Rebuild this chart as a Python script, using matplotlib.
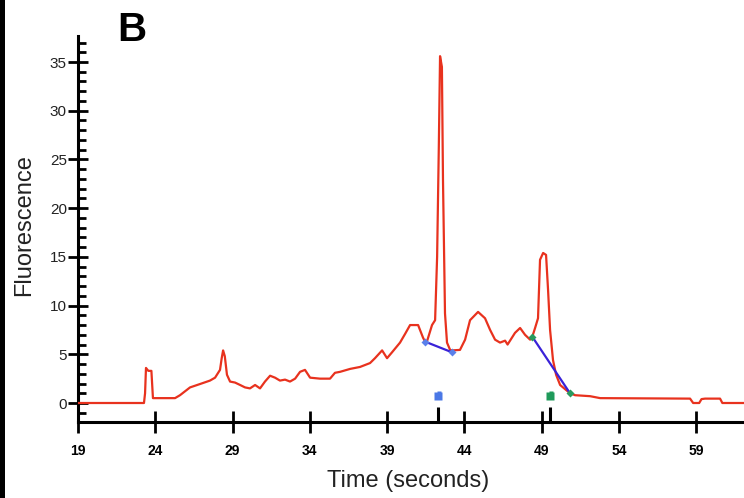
import matplotlib
matplotlib.use("Agg")
import matplotlib.pyplot as plt
from matplotlib.patches import Rectangle
from matplotlib.ticker import MultipleLocator

plt.rcParams['font.family'] = ['Liberation Sans', 'DejaVu Sans']

# Electropherogram trace
time_s = [19.0, 23.27, 23.34, 23.40, 23.55, 23.75, 23.85, 25.28, 25.60, 26.25,
          26.90, 27.54, 27.87, 28.19, 28.30, 28.39, 28.50, 28.64, 28.84, 29.16,
          29.49, 29.81, 30.13, 30.46, 30.78, 31.10, 31.43, 31.75, 32.07, 32.40,
          32.72, 33.05, 33.37, 33.69, 34.02, 34.66, 35.31, 35.63, 35.96, 36.61,
          37.25, 37.90, 38.22, 38.68, 39.00, 39.32, 39.84, 40.17, 40.49, 41.01,
          41.33, 41.46, 41.60, 41.91, 42.11, 42.24, 42.35, 42.43, 42.55, 42.62,
          42.75, 42.88, 43.08, 43.21, 43.72, 44.05, 44.37, 44.89, 45.34, 45.67,
          45.99, 46.31, 46.64, 46.80, 46.96, 47.28, 47.61, 47.93, 48.26, 48.40,
          48.58, 48.77, 48.90, 49.10, 49.29, 49.42, 49.55, 49.74, 49.94, 50.20,
          50.84, 51.17, 52.14, 52.79, 58.61, 58.81, 59.20, 59.35, 59.58, 60.55,
          60.70, 62.10]
fluorescence = [0.0, 0.0, 1.0, 3.6, 3.3, 3.3, 0.5, 0.5, 0.8, 1.6,
                1.95, 2.3, 2.6, 3.4, 4.6, 5.4, 4.8, 2.9, 2.2, 2.1,
                1.85, 1.6, 1.5, 1.85, 1.5, 2.2, 2.8, 2.6, 2.3, 2.4,
                2.2, 2.5, 3.2, 3.4, 2.6, 2.5, 2.5, 3.1, 3.2, 3.5,
                3.7, 4.1, 4.6, 5.4, 4.6, 5.2, 6.2, 7.1, 8.0, 8.0,
                6.7, 6.3, 6.4, 8.0, 8.5, 15.0, 26.3, 35.6, 34.5, 22.9,
                9.2, 6.2, 5.45, 5.4, 5.45, 6.5, 8.5, 9.35, 8.7, 7.5,
                6.5, 6.2, 6.4, 6.0, 6.4, 7.2, 7.7, 7.0, 6.5, 6.8,
                7.7, 8.7, 14.7, 15.4, 15.2, 11.6, 7.5, 4.4, 2.9, 1.85,
                1.0, 0.8, 0.7, 0.5, 0.45, 0.0, 0.0, 0.4, 0.45, 0.45,
                0.0, 0.0]

# Integration baselines (start, end) for the two marked peaks
base1_t = [41.46, 43.21]
base1_v = [6.3, 5.2]
base2_t = [48.40, 50.84]
base2_v = [6.8, 1.0]

# Peak call positions
peak_t = [42.30, 49.55]
peak_colors = ['#4a78e6', '#1f9a5a']

x_ticks = [19, 24, 29, 34, 39, 44, 49, 54, 59]
y_ticks = [0, 5, 10, 15, 20, 25, 30, 35]

fig = plt.figure(figsize=(7.44, 4.98), dpi=100)
fig.patches.append(Rectangle((0, 0), 5 / 744, 1, transform=fig.transFigure,
                             facecolor='black', edgecolor='none'))

ax = fig.add_axes([78 / 744, 1 - 422 / 498, 1 - 78 / 744, (422 - 36) / 498])
ax.set_xlim(19, 62.1)
ax.set_ylim(-1.95, 37.67)

ax.plot(time_s, fluorescence, color='#e8321e', lw=1.6, zorder=3)

ax.plot(base1_t, base1_v, color='#3a22d8', lw=1.6, zorder=4)
ax.plot(base1_t, base1_v, ls='none', marker='D', ms=4.5, color='#5a80ea',
        markeredgecolor='none', zorder=5)
ax.plot(base2_t, base2_v, color='#3a22d8', lw=1.6, zorder=4)
ax.plot(base2_t, base2_v, ls='none', marker='D', ms=4.5, color='#2a9a5e',
        markeredgecolor='none', zorder=5)

for t, c in zip(peak_t, peak_colors):
    ax.vlines(t, -1.95, -0.45, color='black', lw=2.2, zorder=4, clip_on=True)
    ax.plot([t], [0.7], ls='none', marker='s', ms=6, color=c,
            markeredgecolor='none', zorder=5)
    ax.plot([t + 0.05], [1.05], ls='none', marker='s', ms=3.5, color=c,
            markeredgecolor='none', zorder=5)

for side in ('top', 'right'):
    ax.spines[side].set_visible(False)
for side in ('left', 'bottom'):
    ax.spines[side].set_linewidth(2.2)

ax.set_xticks(x_ticks)
ax.set_yticks(y_ticks)
ax.yaxis.set_minor_locator(MultipleLocator(1))
ax.tick_params(axis='y', which='major', direction='inout', length=14, width=2,
               labelsize=11, pad=1, labelcolor='#222222')
ax.tick_params(axis='y', which='minor', direction='in', length=6, width=2)
ax.tick_params(axis='x', which='major', direction='inout', length=16, width=2,
               labelsize=10, pad=8)
for lab in ax.get_xticklabels():
    lab.set_fontweight('bold')

ax.set_xlabel('Time (seconds)', fontsize=17, color='#222222')
ax.set_ylabel('Fluorescence', fontsize=17, color='#222222')
ax.xaxis.set_label_coords((408 - 78) / (744 - 78), -(470 - 422) / (422 - 36))
ax.yaxis.set_label_coords(-(78 - 35) / (744 - 78), (422 - 225) / (422 - 36))

fig.text(132 / 744, 1 - 30 / 498, 'B', fontsize=29, fontweight='bold',
         ha='center', va='center')

fig.savefig('out.png', dpi=100)
